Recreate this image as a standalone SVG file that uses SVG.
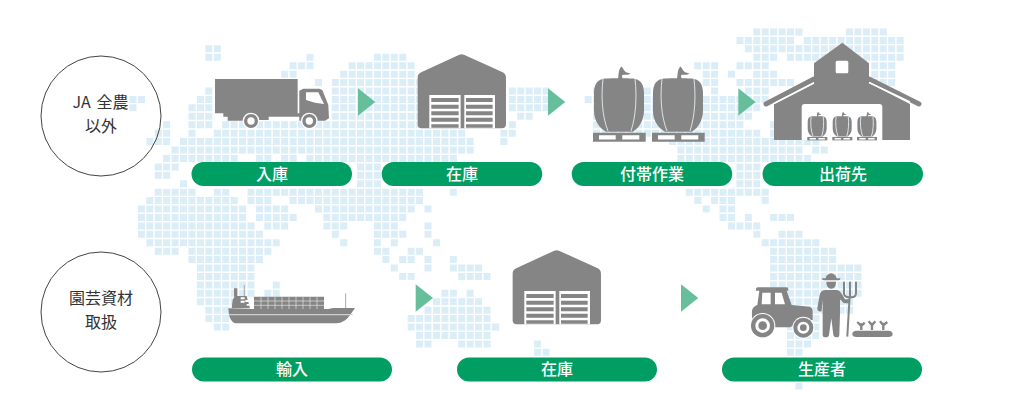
<svg xmlns="http://www.w3.org/2000/svg" width="1024" height="400" viewBox="0 0 1024 400">
<style>
text{font-family:"Noto Sans CJK JP","Noto Sans",sans-serif;text-anchor:middle}
.pill{fill:#009e62}
.pt{fill:#fff;font-size:16px;font-weight:500}
.ct{fill:#333;font-size:16px;font-weight:400;word-spacing:2px}
.ring{fill:none;stroke:#444;stroke-width:1}
.g{fill:#858585}
.w{fill:#fff}
.arrow{fill:#66bf9a}
</style>
<defs>
<g id="bag">
<path class="g" d="M12 12.5C20 12 32 12 40 12.5C47 13 51 18 51 27V45C51 54 46 62 40 65.7H13C6 62 1 54 1 45V27C1 18 5 13 12 12.5ZM25 13C26 8 25 4 28.5.5C30 2 31 5 33 6.3L37.5 7.5C35 9.5 31 8.5 29.5 9C28.5 10 29 11 30 13Z"/>
<path d="M10 13C8 30 9 50 15 65M42 13C44 30 43 50 38 65" fill="none" stroke="#e4edf2" stroke-width=".9" vector-effect="non-scaling-stroke"/>
<path class="g" d="M0 66.7H52.7V75.7H0Z"/>
<path class="w" d="M6 69.3H22.7V73.6H6ZM29.3 69.3H46.3V73.6H29.3Z"/>
</g>
<g id="wh">
<path class="g" d="M697 125L808 74Q815 71 822 74L935 125Q948 130 948 142V283Q948 295 936 295H695Q683 295 683 283V142Q683 130 697 125Z"/>
<path class="w" d="M718 195H812V295H718ZM823 195H915V295H823Z"/>
<path class="g" d="M724 204H806V216H724ZM828 204H908V216H828ZM724 224H806V236H724ZM828 224H908V236H828ZM724 244H806V256H724ZM828 244H908V256H828ZM724 263H806V275H724ZM828 263H908V275H828ZM724 283H806V293H724ZM828 283H908V293H828Z"/>
</g>
</defs>
<g id="map" transform="translate(137.9 32) scale(8.43)" fill="none" stroke="#dbedf7" stroke-width=".83" stroke-dasharray=".83 .17">
<path d="M73 0h6M84 0h5M71 1h7M79 1h12M8 2h2M72 2h6M78 2h13M8 3h2M20 3h1M28 3h4M73 3h3M77 3h14M18 4h3M25 4h8M66 4h3M71 4h4M87 4h3M17 5h2M24 5h9M67 5h2M70 5h1M73 5h3M87 5h3M21 6h1M23 6h11M67 6h2M71 6h7M87 6h3M8 7h1M23 7h11M44 7h5M54 7h7M68 7h1M72 7h3M-1 8h2M7 8h2M23 8h11M44 8h5M53 8h19M72 8h3M-1 9h1M6 9h3M23 9h11M44 9h5M54 9h18M72 9h2M6 10h3M23 10h11M45 10h2M54 10h18M72 10h1M3 11h1M6 11h3M10 11h29M44 11h1M54 11h18M75 11h1M2 12h2M6 12h1M9 12h30M43 12h2M54 12h20M75 12h3M1 13h3M5 13h35M43 13h1M63 13h18M4 14h36M64 14h15M80 14h2M3 15h9M14 15h2M17 15h2M20 15h18M64 15h16M2 16h3M26 16h3M71 16h3M2 17h2M26 17h3M71 17h3M5 18h1M26 18h3M71 18h3M2 19h5M9 19h2M13 19h21M37 19h1M65 19h10M1 20h11M13 20h3M18 20h16M66 20h1M68 20h3M74 20h1M0 21h13M14 21h4M21 21h12M34 21h1M67 21h1M69 21h2M0 22h13M14 22h5M22 22h10M69 22h2M72 22h1M75 22h3M0 23h14M15 23h3M22 23h3M28 23h3M34 23h1M70 23h4M0 24h15M23 24h1M28 24h4M34 24h1M73 24h1M76 24h3M1 25h16M24 25h1M28 25h1M30 25h1M35 25h1M74 25h7M2 26h3M6 26h10M28 26h2M32 26h2M75 26h8M6 27h9M29 27h1M31 27h2M34 27h1M37 27h1M75 27h8M7 28h7M30 28h1M34 28h1M37 28h4M75 28h11M7 29h7M31 29h2M38 29h4M75 29h11M7 30h7M16 30h1M75 30h11M7 31h7M15 31h2M36 31h2M39 31h1M75 31h11M7 32h6M35 32h6M76 32h9M8 33h3M34 33h8M77 33h8M8 34h3M32 34h10M77 34h4M9 35h2M32 35h11M77 35h4M33 36h9M77 36h4M33 37h2M38 37h4M47 37h1M77 37h3M47 38h2M77 38h2M78 42h1"/>
</g>
<g id="connectors" class="arrow">
<path d="M358 88.3L375.3 102L358 115.7Z"/>
<path d="M548 88.3L565.3 102L548 115.7Z"/>
<path d="M738.3 88.3L755.6 102L738.3 115.7Z"/>
<path d="M415.7 284.3L433 298L415.7 311.7Z"/>
<path d="M681 284.3L698.3 298L681 311.7Z"/>
</g>
<g id="label-ja">
<circle class="ring" cx="101" cy="116" r="60"/>
<text class="ct" x="100.5" y="107.8">JA 全農</text>
<text class="ct" x="101" y="131.8">以外</text>
</g>
<g id="label-garden">
<circle class="ring" cx="101" cy="312" r="60"/>
<text class="ct" x="101" y="303.8">園芸資材</text>
<text class="ct" x="101" y="327.8">取扱</text>
</g>
<g id="node-nyuko">
<g transform="translate(190 30) scale(.3333)">
<path class="g" d="M75 147H323V250H75ZM100 250H330V260H236V270H205V260H165V272H113V260H100Z"/>
<path class="g" d="M328 252V182L340 176H388L397 180L415 225L417 265L405 272H328Z"/>
<path class="w" d="M348 187H385L402 222L375 218L348 210Z"/>
<circle class="w" cx="183" cy="273" r="25"/><circle class="w" cx="358" cy="273" r="25"/>
<circle class="g" cx="183" cy="273" r="21"/><circle class="g" cx="358" cy="273" r="21"/>
<circle class="w" cx="183" cy="273" r="11"/><circle class="w" cx="358" cy="273" r="11"/>
</g>
<rect class="pill" x="191.5" y="162" width="160.5" height="24" rx="12"/>
<text class="pt" x="272" y="179.8">入庫</text>
</g>
<g id="node-zaiko1">
<use href="#wh" transform="translate(190 30) scale(.3333)"/>
<rect class="pill" x="381.7" y="162" width="160.5" height="24" rx="12"/>
<text class="pt" x="462" y="179.8">在庫</text>
</g>
<g id="node-futai">
<use href="#bag" transform="translate(593 66)"/>
<use href="#bag" transform="translate(652 66)"/>
<rect class="pill" x="571.7" y="162" width="160.5" height="24" rx="12"/>
<text class="pt" x="652" y="179.8">付帯作業</text>
</g>
<g id="node-shukka">
<path class="g" d="M842.3 42.7L869 63.3V83L910 104V140H774V104L814 83V63.3Z"/>
<path d="M814 79L766 104M869 79L919 104" fill="none" stroke="#858585" stroke-width="5" stroke-linecap="round"/>
<path d="M814 83L774 103.5M869 82.5L910 102" fill="none" stroke="#fff" stroke-width="1.5"/>
<rect class="w" x="835.7" y="60.7" width="12.6" height="12.6" rx="1.5"/>
<path class="w" d="M801.7 140V107Q801.7 104 804.7 104H879.3Q882.3 104 882.3 107V140Z"/>
<use href="#bag" transform="translate(807.3 111.6) scale(.38)"/>
<use href="#bag" transform="translate(832.3 111.6) scale(.38)"/>
<use href="#bag" transform="translate(857 111.6) scale(.38)"/>
<rect class="pill" x="762.5" y="162" width="160.5" height="24" rx="12"/>
<text class="pt" x="843" y="179.8">出荷先</text>
</g>
<g id="node-yunyu">
<g transform="translate(190 240) scale(.3333)">
<path d="M163 135V170M467 160V206" stroke="#aaa" stroke-width="3" fill="none"/>
<path class="g" d="M132 145H142V170H132ZM125 205L128 180L135 168H170L180 205Z"/>
<path class="w" d="M152 172H164V178H152ZM152 182H164V188H152ZM166 180H174V186H166ZM170 192H178V197H170Z"/>
<path class="g" d="M192 170H402V208H192Z"/>
<path d="M192 183H402M192 196H402M213 170V208M234 170V208M255 170V208M276 170V208M297 170V208M318 170V208M339 170V208M360 170V208M381 170V208" stroke="#e6e6e6" stroke-width="2" fill="none"/>
<path class="g" d="M115 205L180 207H415L430 204H495L480 226Q462 250 440 250H135Q122 245 117 225Z"/>
<path d="M117 224H488" stroke="#cfcfcf" stroke-width="4" fill="none"/>
</g>
<rect class="pill" x="192" y="357.5" width="200" height="24" rx="12"/>
<text class="pt" x="292" y="375.3">輸入</text>
</g>
<g id="node-zaiko2">
<use href="#wh" transform="translate(95 196) translate(190 30) scale(.3333)"/>
<rect class="pill" x="457" y="357.5" width="200" height="24" rx="12"/>
<text class="pt" x="557" y="375.3">在庫</text>
</g>
<g id="node-seisan">
<g transform="translate(670 240) scale(.3333)">
<path class="g" d="M258 147Q258 142 264 142H350Q355 142 355 147V152H350L365 195L420 200Q428 203 428 212V240H400L360 262H310V250H250Q245 240 246 212Q248 200 262 195L268 152H258Z"/>
<path class="w" d="M277 158H302V193H275ZM315 158H335L345 193H315Z"/>
<circle class="w" cx="278" cy="257" r="38"/><circle class="g" cx="278" cy="257" r="35"/><circle class="w" cx="278" cy="257" r="22"/><circle class="g" cx="278" cy="257" r="13"/>
<circle class="w" cx="400" cy="263" r="33"/><circle class="g" cx="400" cy="263" r="30"/><circle class="w" cx="400" cy="263" r="18"/><circle class="g" cx="400" cy="263" r="10"/>
<path class="g" d="M469 108Q483 92 498 108L500 115H511Q512 121 505 121H462Q455 121 456 115H467Z"/>
<path class="g" d="M469 125H498Q498 145 484 146Q469 145 469 125Z"/>
<path class="g" d="M465 150H502Q510 152 514 160L525 178H539V190H522L510 178V225L508 285Q508 292 499 292Q491 292 490 285L484 235L477 285Q476 292 467 292Q458 292 458 285L458 178L455 212Q453 216 447 214Q441 212 442 205L449 165Q452 152 465 150Z"/>
<path d="M532 290L539 170M522 125V160Q522 172 538 172H544Q558 172 558 160V125M540 125V172" fill="none" stroke="#858585" stroke-width="6"/>
<path class="g" d="M547 282Q547 273 560 272H655Q668 273 668 282Q668 291 655 291H560Q547 291 547 282Z"/>
<path d="M574 270V250M574 258L562 246M574 258L584 248M606 270V248M606 256L596 244M606 256L616 244M640 270V248M640 256L630 244M640 256L652 246" fill="none" stroke="#858585" stroke-width="7"/>
</g>
<rect class="pill" x="722" y="357.5" width="200" height="24" rx="12"/>
<text class="pt" x="822" y="375.3">生産者</text>
</g>
</svg>
